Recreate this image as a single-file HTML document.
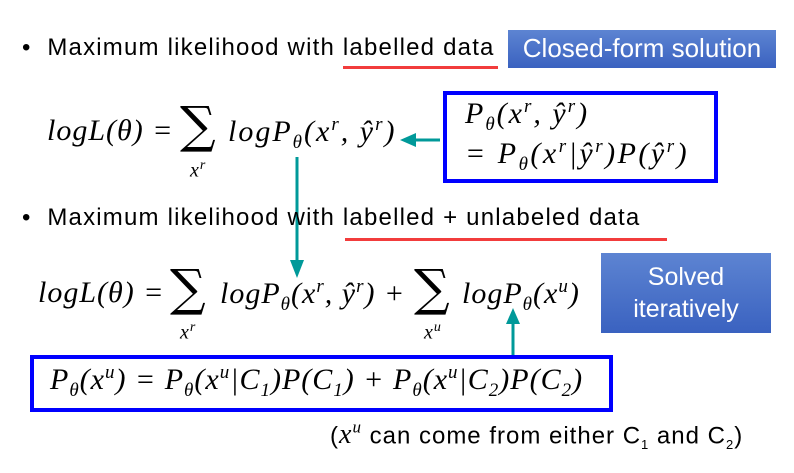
<!DOCTYPE html>
<html><head><meta charset="utf-8"><style>
body{margin:0;width:794px;height:473px;background:#fff;position:relative;overflow:hidden;font-family:"Liberation Sans",sans-serif;}
.a{position:absolute;white-space:nowrap;}
.m{font-family:"Liberation Serif",serif;font-style:italic;font-size:30px;letter-spacing:1px;color:#000;}
.m sub,.m sup{font-size:19px;}
.sig{font-style:normal;font-size:50px;font-family:"DejaVu Serif",serif;}
.bl{background:linear-gradient(#5d84d2,#3a62c0);color:#fff;text-align:center;}
.bx{border:4px solid #0000ff;box-sizing:border-box;}
.t{font-size:24px;letter-spacing:1.2px;}
</style></head><body>
<div class="a t" style="left:22px;top:34px;">•&nbsp; Maximum likelihood with labelled data</div>
<div class="a" style="left:343px;top:66px;width:155px;height:3px;background:#f23c3c"></div>
<div class="a bl" style="left:508px;top:30px;width:268px;height:38px;font-size:26px;line-height:36px;">Closed-form solution</div>

<div class="a m" style="left:47px;top:114px;">logL(θ) =</div>
<div class="a m sig" style="left:180px;top:96px;">∑</div>
<div class="a m" style="left:190px;top:158px;font-size:20px;">x<sup style="font-size:14px">r</sup></div>
<div class="a m" style="left:228px;top:114px;letter-spacing:2px;">logP<sub>θ</sub>(x<sup>r</sup>, ŷ<sup>r</sup>)</div>
<svg class="a" style="left:0;top:0" width="794" height="473">
<line x1="440" y1="140" x2="412" y2="140" stroke="#009999" stroke-width="3"/>
<polygon points="400,140 416,133 416,147" fill="#009999"/>
<line x1="297" y1="157" x2="297" y2="262" stroke="#009999" stroke-width="3"/>
<polygon points="297,278 290,260 304,260" fill="#009999"/>
<line x1="513" y1="356" x2="513" y2="322" stroke="#009999" stroke-width="3"/>
<polygon points="513,308 506,324 520,324" fill="#009999"/>
</svg>
<div class="a bx" style="left:443px;top:91px;width:275px;height:92px;"></div>
<div class="a m" style="left:465px;top:96px;letter-spacing:2px;">P<sub>θ</sub>(x<sup>r</sup>, ŷ<sup>r</sup>)</div>
<div class="a m" style="left:465px;top:136px;letter-spacing:2.5px;">= P<sub>θ</sub>(x<sup>r</sup>|ŷ<sup>r</sup>)P(ŷ<sup>r</sup>)</div>

<div class="a t" style="left:22px;top:204px;">•&nbsp; Maximum likelihood with labelled + unlabeled data</div>
<div class="a" style="left:345px;top:238px;width:322px;height:3px;background:#f23c3c"></div>

<div class="a m" style="left:38px;top:276px;">logL(θ) =</div>
<div class="a m sig" style="left:170px;top:259px;">∑</div>
<div class="a m" style="left:180px;top:320px;font-size:20px;">x<sup style="font-size:14px">r</sup></div>
<div class="a m" style="left:220px;top:276px;letter-spacing:1px;">logP<sub>θ</sub>(x<sup>r</sup>, ŷ<sup>r</sup>) +</div>
<div class="a m sig" style="left:414px;top:259px;">∑</div>
<div class="a m" style="left:424px;top:320px;font-size:20px;">x<sup style="font-size:14px">u</sup></div>
<div class="a m" style="left:462px;top:276px;">logP<sub>θ</sub>(x<sup>u</sup>)</div>
<div class="a bl" style="left:601px;top:253px;width:170px;height:80px;font-size:25px;line-height:32px;padding-top:8px;box-sizing:border-box;">Solved<br>iteratively</div>

<div class="a bx" style="left:30px;top:355px;width:583px;height:57px;"></div>
<div class="a m" style="left:50px;top:362px;letter-spacing:1px;">P<sub>θ</sub>(x<sup>u</sup>) = P<sub>θ</sub>(x<sup>u</sup>|C<sub>1</sub>)P(C<sub>1</sub>) + P<sub>θ</sub>(x<sup>u</sup>|C<sub>2</sub>)P(C<sub>2</sub>)</div>
<div class="a" style="left:330px;top:418px;font-size:24px;letter-spacing:1px;">(<i style="font-family:'Liberation Serif',serif;font-size:28px">x<sup style="font-size:17px">u</sup></i> can come from either C<sub style="font-size:13px">1</sub> and C<sub style="font-size:13px">2</sub>)</div>
</body></html>
